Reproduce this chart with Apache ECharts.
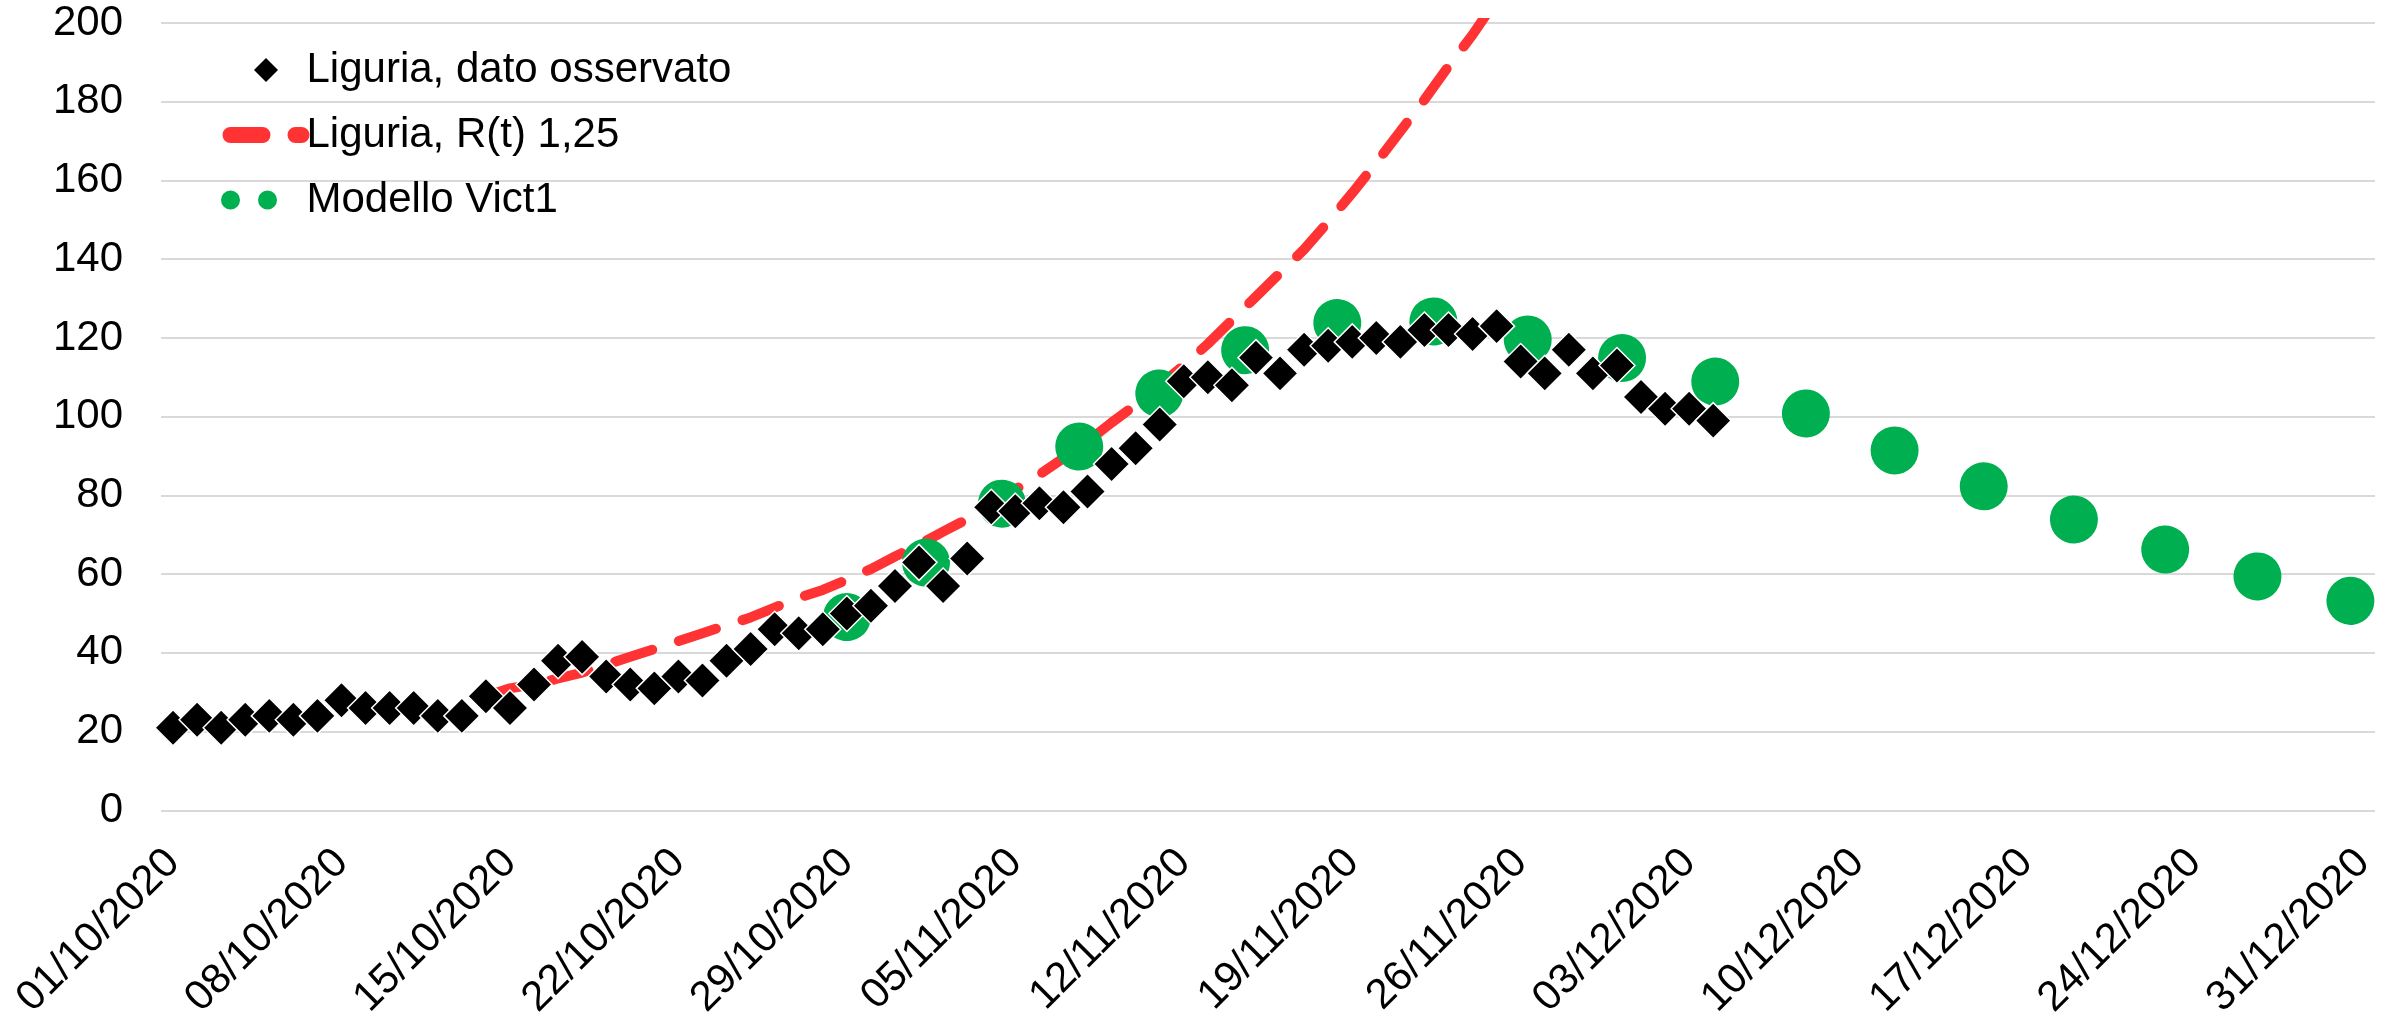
<!DOCTYPE html>
<html>
<head>
<meta charset="utf-8">
<script src="https://cdn.jsdelivr.net/npm/echarts@6/dist/echarts.min.js"></script>
<style>
  html, body { margin: 0; padding: 0; background: #ffffff; }
  #chart { width: 2396px; height: 1022px; }
</style>
</head>
<body>
<div id="chart"></div>
<script>
// ---- Tick labels (x axis, one every 7 days starting 01/10/2020) ----
const tickLabels = ['01/10/2020', '08/10/2020', '15/10/2020', '22/10/2020', '29/10/2020',
  '05/11/2020', '12/11/2020', '19/11/2020', '26/11/2020', '03/12/2020',
  '10/12/2020', '17/12/2020', '24/12/2020', '31/12/2020'];
const tickStepDays = 7;

// ---- Series names ----
const seriesNames = ['Liguria, dato osservato', 'Liguria, R(t) 1,25', 'Modello Vict1'];

// ---- Observed daily values, from 01/10/2020 (day 0) ----
const observedStartDay = 0;
const observed = [
  21, 23, 21, 23, 24, 23, 24, 28, 26, 26,
  26, 24, 24, 29, 26, 32, 38, 39, 34, 32,
  31, 34, 33, 38, 41, 46, 45, 46, 50, 52,
  57, 63, 57, 64, 77, 76, 78, 77, 81, 88,
  92, 98, 109, 110, 108, 115, 111, 117, 118, 119,
  120, 119, 122, 122, 121, 123, 114, 111, 117, 111,
  113, 105, 102, 102, 99
];

// ---- Projection R(t) 1,25, daily from 14/10/2020 (day 13) ----
const projectionStartDay = 13;
const projection = [
  29, 31, 32, 33.5, 35, 37, 39, 41, 43, 45,
  47, 49, 51.5, 54, 56, 58.6, 61.3, 64.5, 67.5, 70.8,
  74, 77.5, 81.5, 85.3, 89.5, 93.7, 98.5, 103, 108, 113,
  118.5, 124.5, 130.5, 136.5, 142.5, 149.5, 156.8, 164.5, 172.5, 180.5,
  189, 197, 206, 215
];

// ---- Model Vict1 (days since 01/10/2020, value) ----
const modelDay = [28.00, 31.28, 34.44, 37.65, 40.98, 44.55, 48.38, 52.37, 56.29,
  60.22, 64.09, 67.86, 71.55, 75.25, 79.03, 82.81, 86.63, 90.49];
const modelValue = [49.1, 62.9, 77.9, 92.4, 105.9, 116.9, 123.8, 124.2, 119.6,
  114.9, 108.9, 100.8, 91.4, 82.3, 73.8, 66.2, 59.4, 53.2];

// ---- Build series data from the arrays ----
const observedData = observed.map((v, i) => [observedStartDay + i, v]);
const projectionData = projection.map((v, i) => [projectionStartDay + i, v]);
const modelData = modelDay.map((d, i) => [d, modelValue[i]]);
const tickValues = tickLabels.map((_, i) => i * tickStepDays);

const FONT = '"Liberation Sans", Arial, sans-serif';

const chart = echarts.init(document.getElementById('chart'), null, { renderer: 'canvas' });
chart.setOption({
  backgroundColor: '#ffffff',
  animation: false,
  textStyle: { fontFamily: FONT },
  grid: { left: 161, right: 21, top: 23, bottom: 207 },
  legend: {
    orient: 'vertical',
    left: 221,
    top: 48,
    padding: 0,
    itemWidth: 71,
    itemHeight: 24,
    itemGap: 21,
    symbolKeepAspect: true,
    textStyle: { fontSize: 42, lineHeight: 44, color: '#000000', fontFamily: FONT },
    data: [
      { name: seriesNames[0],
        icon: 'path://M12,0L24,12L12,24L0,12Z',
        itemStyle: { color: '#000000', borderWidth: 0, opacity: 1 } },
      { name: seriesNames[1],
        itemStyle: { opacity: 0 },
        lineStyle: { width: 16, type: [32, 33], cap: 'round', color: '#ff3333' } },
      { name: seriesNames[2],
        itemStyle: { opacity: 0 },
        lineStyle: { width: 19, type: [0.01, 37], cap: 'round', color: '#00b050' } }
    ]
  },
  xAxis: {
    type: 'value',
    min: -0.5,
    max: 91.5,
    axisLine: { show: false },
    axisTick: { show: false },
    splitLine: { show: false },
    axisLabel: {
      customValues: tickValues,
      rotate: 45,
      margin: 46,
      fontSize: 42,
      color: '#000000',
      fontFamily: FONT,
      formatter: (v) => tickLabels[Math.round(v / tickStepDays)] || ''
    }
  },
  yAxis: {
    type: 'value',
    min: 0,
    max: 200,
    interval: 20,
    axisLine: { show: false },
    axisTick: { show: false },
    splitLine: { show: true, lineStyle: { color: '#d9d9d9', width: 2 } },
    axisLabel: { fontSize: 42, color: '#000000', margin: 38, fontFamily: FONT }
  },
  series: [
    {
      name: seriesNames[0],
      type: 'scatter',
      z: 4,
      symbol: 'diamond',
      symbolSize: 36,
      itemStyle: { color: '#000000', borderColor: '#ffffff', borderWidth: 1.5, opacity: 1 },
      data: observedData
    },
    {
      name: seriesNames[1],
      type: 'line',
      z: 2,
      symbol: 'none',
      showSymbol: false,
      clip: true,
      lineStyle: { color: '#ff3333', width: 10, type: [39, 28], cap: 'round', join: 'round' },
      itemStyle: { color: '#ff3333' },
      data: projectionData
    },
    {
      name: seriesNames[2],
      type: 'line',
      z: 3,
      symbol: 'none',
      showSymbol: false,
      lineStyle: { color: '#00b050', width: 48, type: [0.01, 96.09], cap: 'round', join: 'round' },
      itemStyle: { color: '#00b050' },
      data: modelData
    }
  ]
});
</script>
</body>
</html>
